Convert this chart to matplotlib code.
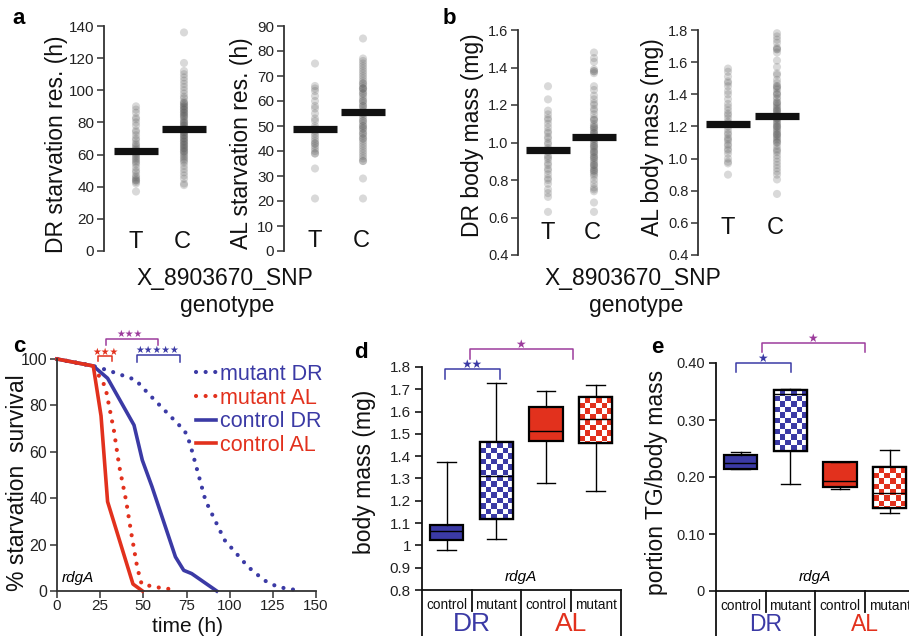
import numpy as np
import matplotlib
matplotlib.use("Agg")
import matplotlib.pyplot as plt
from matplotlib.colors import ListedColormap
from matplotlib.patches import PathPatch
from matplotlib.transforms import blended_transform_factory

plt.rcParams['font.family'] = ['Liberation Sans', 'DejaVu Sans']

# ---------------- data ----------------
genotypes = ["T", "C"]
a_dr_T = [90, 88, 86, 83, 82, 80, 78, 75, 74, 72, 70, 69, 67, 66, 65, 64, 63, 62, 61, 60,
          59, 58, 57, 56, 55, 54, 52, 50, 49, 47, 46, 45, 44, 44, 43, 42, 37]
a_dr_C = [136, 117, 112, 110, 108, 106, 104, 102, 100, 98, 96, 95, 93, 92, 91, 90, 89, 88, 87,
          86, 85, 84, 83, 82, 81, 80, 79, 78, 77, 76, 76, 75, 74, 73, 72, 71, 70, 69, 68, 67,
          66, 65, 64, 63, 62, 61, 60, 59, 58, 57, 56, 55, 53, 51, 49, 47, 45, 42, 41,
          92, 90, 88, 86, 84, 80, 78, 74, 72, 70, 68, 66, 64, 62]
a_dr_means = [62, 76]
a_al_T = [75, 66, 65, 64, 62, 60, 58, 57, 55, 53, 52, 50, 49, 48, 47, 46, 45, 44, 43, 43,
          42, 41, 40, 39, 39, 33, 21]
a_al_C = [85, 77, 76, 75, 74, 73, 72, 71, 70, 69, 68, 67, 66, 65, 65, 64, 63, 62, 61, 60, 59,
          58, 57, 56, 55, 54, 53, 52, 51, 50, 49, 49, 48, 47, 46, 45, 44, 43, 42, 41, 40, 39,
          38, 37, 36, 36, 29, 21, 67, 65, 63, 60, 58, 55, 52, 50, 47, 45]
a_al_means = [48.7, 55.5]
b_dr_T = [1.30, 1.23, 1.17, 1.15, 1.13, 1.12, 1.10, 1.08, 1.06, 1.05, 1.03, 1.02, 1.00, 0.99,
          0.97, 0.96, 0.95, 0.93, 0.92, 0.91, 0.89, 0.88, 0.86, 0.85, 0.83, 0.81, 0.80, 0.78,
          0.75, 0.73, 0.71, 0.63]
b_dr_C = [1.48, 1.45, 1.43, 1.39, 1.38, 1.37, 1.30, 1.28, 1.25, 1.23, 1.21, 1.20, 1.18, 1.17,
          1.15, 1.13, 1.12, 1.10, 1.09, 1.08, 1.07, 1.06, 1.05, 1.04, 1.03, 1.02, 1.01, 1.00,
          0.99, 0.98, 0.97, 0.96, 0.95, 0.94, 0.93, 0.92, 0.91, 0.90, 0.89, 0.88, 0.87, 0.86,
          0.85, 0.84, 0.83, 0.82, 0.80, 0.78, 0.76, 0.75, 0.74, 0.68, 0.63,
          1.38, 1.12, 1.08, 1.05, 1.02, 0.98, 0.95, 0.92, 0.88, 0.85]
b_dr_means = [0.96, 1.03]
b_al_T = [1.56, 1.54, 1.51, 1.48, 1.47, 1.45, 1.42, 1.40, 1.37, 1.34, 1.32, 1.30, 1.28, 1.27,
          1.25, 1.23, 1.22, 1.20, 1.18, 1.16, 1.15, 1.13, 1.12, 1.11, 1.09, 1.08, 1.06, 1.05,
          1.03, 1.00, 0.98, 0.97, 0.90]
b_al_C = [1.78, 1.76, 1.74, 1.72, 1.69, 1.68, 1.66, 1.61, 1.57, 1.53, 1.52, 1.49, 1.47, 1.45,
          1.44, 1.43, 1.41, 1.40, 1.38, 1.37, 1.35, 1.34, 1.33, 1.32, 1.31, 1.30, 1.29, 1.28,
          1.27, 1.26, 1.25, 1.24, 1.23, 1.22, 1.21, 1.20, 1.19, 1.18, 1.17, 1.16, 1.15, 1.14,
          1.13, 1.12, 1.11, 1.10, 1.08, 1.06, 1.04, 1.02, 1.00, 0.98, 0.96, 0.94, 0.92, 0.90,
          0.87, 0.78, 1.68, 1.45, 1.40, 1.35, 1.30, 1.25, 1.20, 1.15, 1.10, 1.05]
b_al_means = [1.215, 1.267]

# survival curves (panel c)
t_mut_DR = [0, 21, 30, 45.5, 53, 74, 77, 86, 97, 110.7, 120, 128, 139.5]
s_mut_DR = [100, 97, 95, 91, 85, 69, 63.6, 39, 22, 10.4, 4.6, 1.7, 0.3]
t_mut_AL = [0, 21, 28, 33, 36, 40, 43, 46.5, 49, 57, 68.5]
s_mut_AL = [100, 97, 88, 69, 54, 39, 25, 10, 3, 1.7, 0.5]
t_ctl_DR = [0, 21, 29.3, 44.6, 49.4, 55, 68.6, 73.4, 78, 92.5]
s_ctl_DR = [100, 97, 91.7, 71.5, 56.4, 45, 14.7, 8.9, 7.5, 0]
t_ctl_AL = [0, 21, 25.5, 29.3, 44, 49.5]
s_ctl_AL = [100, 97, 75.5, 38.5, 3, 0]

groups = ["control", "mutant", "control", "mutant"]
diets = ["DR", "AL"]
# panel d: body mass boxes
d_whislo = [0.98, 1.027, 1.282, 1.242]
d_q1 = [1.024, 1.118, 1.467, 1.457]
d_med = [1.064, 1.313, 1.515, 1.566]
d_q3 = [1.090, 1.464, 1.621, 1.664]
d_whishi = [1.376, 1.728, 1.693, 1.718]
# panel e: TG / body mass
e_whislo = [0.214, 0.187, 0.179, 0.136]
e_q1 = [0.214, 0.246, 0.183, 0.145]
e_med = [0.224, 0.346, 0.193, 0.172]
e_q3 = [0.238, 0.352, 0.226, 0.217]
e_whishi = [0.243, 0.354, 0.227, 0.247]

BLUE = "#3b3aa5"
RED = "#e2311d"
PURPLE = "#9c3c9c"
DOT = "#555555"
STAR = "\u2605"

W, H = 909, 636
fig = plt.figure(figsize=(W / 100, H / 100), dpi=100)


def px_axes(x0, ytop, x1, ybot):
    return fig.add_axes([x0 / W, 1 - ybot / H, (x1 - x0) / W, (ybot - ytop) / H])


def ftext(x, y, s, **kw):
    return fig.text(x / W, 1 - y / H, s, **kw)


def style_left_only(ax, tick_fs):
    for sp in ["top", "right", "bottom"]:
        ax.spines[sp].set_visible(False)
    ax.spines["left"].set_color("#333333")
    ax.spines["left"].set_linewidth(1.3)
    ax.tick_params(axis="y", direction="out", length=5, width=1.1, color="#333333",
                   labelsize=tick_fs, labelcolor="#222222", pad=2)
    ax.set_xticks([])
    ax.patch.set_alpha(0)


def strip_panel(xaxis, xT, xC, ytop, ybot, ylim, yticks, yticklabels, dT, dC, means,
                ylabel, ylab_xy, tc_y, tick_fs):
    sp = xC - xT
    x1 = xaxis + 120
    ax = px_axes(xaxis, ytop, x1, ybot)
    ax.set_xlim((xaxis - xT) / sp, (x1 - xT) / sp)
    ax.set_ylim(*ylim)
    style_left_only(ax, tick_fs)
    ax.set_yticks(yticks)
    ax.set_yticklabels(yticklabels)
    for i, d in enumerate([dT, dC]):
        ax.scatter(np.full(len(d), i), d, s=34, color=DOT, alpha=0.22,
                   edgecolors="none", clip_on=False, zorder=2)
    hw = 22.0 / sp
    for i, m in enumerate(means):
        ax.hlines(m, i - hw, i + hw, color="#111111", lw=5.2, zorder=3, capstyle="butt")
    tr = blended_transform_factory(ax.transData, fig.transFigure)
    for i, g in enumerate(genotypes):
        ax.text(i - 0.03 * i, 1 - tc_y / H, g, transform=tr, ha="center", va="center",
                fontsize=17, color="#111111")
    ftext(ylab_xy[0], ylab_xy[1], ylabel, rotation=90, ha="center", va="center",
          fontsize=16.5, color="#111111")
    return ax


# ---------------- panel a ----------------
strip_panel(104, 136, 184, 26, 251, (0, 140), range(0, 141, 20),
            [str(v) for v in range(0, 141, 20)], a_dr_T, a_dr_C, a_dr_means,
            "DR starvation res. (h)", (57, 144), 242, 11)
strip_panel(284, 315, 363, 26, 251, (0, 90), range(0, 91, 10),
            [str(v) for v in range(0, 91, 10)], a_al_T, a_al_C, a_al_means,
            "AL starvation res. (h)", (242, 143), 241, 11)
ftext(225, 279, "X_8903670_SNP", ha="center", va="center", fontsize=16.5, color="#111111")
ftext(227, 305, "genotype", ha="center", va="center", fontsize=16.5, color="#111111")
ftext(19, 19, "a", ha="center", va="center", fontsize=16, fontweight="bold")

# ---------------- panel b ----------------
bt = [0.4, 0.6, 0.8, 1.0, 1.2, 1.4, 1.6]
strip_panel(518, 548, 594, 30, 255, (0.4, 1.6), bt, ["%.1f" % v for v in bt],
            b_dr_T, b_dr_C, b_dr_means, "DR body mass (mg)", (472, 135), 233, 10.5)
bt2 = [0.4, 0.6, 0.8, 1.0, 1.2, 1.4, 1.6, 1.8]
strip_panel(698, 728, 777, 30, 255, (0.4, 1.8), bt2, ["%.1f" % v for v in bt2],
            b_al_T, b_al_C, b_al_means, "AL body mass (mg)", (653, 137), 228, 10.5)
ftext(633, 278, "X_8903670_SNP", ha="center", va="center", fontsize=16.5, color="#111111")
ftext(636, 305, "genotype", ha="center", va="center", fontsize=16.5, color="#111111")
ftext(449, 19, "b", ha="center", va="center", fontsize=16, fontweight="bold")

# ---------------- panel c ----------------
axc = px_axes(57, 359, 316, 591)
axc.set_xlim(0, 150)
axc.set_ylim(0, 100)
for sp in ["top", "right"]:
    axc.spines[sp].set_visible(False)
for sp in ["left", "bottom"]:
    axc.spines[sp].set_color("#333333")
    axc.spines[sp].set_linewidth(1.3)
axc.tick_params(direction="out", length=5, width=1.1, color="#333333", labelsize=11.5,
                labelcolor="#222222", pad=2)
axc.tick_params(axis="x", labelsize=11, pad=1)
axc.set_xticks(range(0, 151, 25))
axc.set_yticks(range(0, 101, 20))
axc.patch.set_alpha(0)
dot = (0, (0.01, 2.3))
l1, = axc.plot(t_mut_DR, s_mut_DR, color=BLUE, lw=3.0, linestyle=dot,
               dash_capstyle="round", clip_on=False, label="mutant DR")
l2, = axc.plot(t_mut_AL, s_mut_AL, color=RED, lw=3.0, linestyle=dot,
               dash_capstyle="round", clip_on=False, label="mutant AL")
l3, = axc.plot(t_ctl_DR, s_ctl_DR, color=BLUE, lw=2.6, clip_on=False, label="control DR")
l4, = axc.plot(t_ctl_AL, s_ctl_AL, color=RED, lw=2.6, clip_on=False, label="control AL")
leg = axc.legend(handles=[l1, l2, l3, l4], loc="upper left",
                 bbox_to_anchor=(196 / W, 1 - 364 / H), bbox_transform=fig.transFigure,
                 frameon=False, fontsize=15.5, handlelength=0.95, handletextpad=0.15,
                 labelspacing=0.12, borderpad=0, borderaxespad=0)
for txt, c in zip(leg.get_texts(), [BLUE, RED, BLUE, RED]):
    txt.set_color(c)
axc.text(3, 2.5, "rdgA", fontstyle="italic", fontsize=11, ha="left", va="bottom")
ftext(18, 483, "% starvation  survival", rotation=90, ha="center", va="center",
      fontsize=16.5, color="#111111")
ftext(188, 636, "time (h)", ha="center", va="bottom", fontsize=15, color="#111111")
ftext(19, 346, "c", ha="center", va="center", fontsize=16, fontweight="bold")


def bracket(ax, x0, x1, y, ydrop, color, n, xs, fs=7.0, off=1.0):
    ax.plot([x0, x0, x1, x1], [y - ydrop, y, y, y - ydrop], color=color, lw=1.1,
            clip_on=False)
    ax.annotate(STAR * n, xy=(xs, y), xytext=(0, off), textcoords="offset points",
                color=color, ha="center", va="baseline", fontsize=fs,
                family=["DejaVu Sans"], annotation_clip=False)


bracket(axc, 28.2, 58.3, 108.75, 2.85, PURPLE, 3, 41.7)
bracket(axc, 23.6, 31.7, 101.3, 2.2, RED, 3, 27.8)
bracket(axc, 46.1, 71.2, 101.8, 3.1, BLUE, 5, 58.3)


# ---------------- panels d / e ----------------
def checker_fill(ax, patch, color, ncols=6):
    bb = patch.get_path().get_extents(patch.get_transform())
    sq = bb.width / ncols
    nrows = int(np.ceil(bb.height / sq))
    arr = np.add.outer(np.arange(nrows), np.arange(ncols)) % 2
    inv = ax.transData.inverted()
    (x0, ytop) = inv.transform((bb.x0, bb.y1))
    (x1, ybot) = inv.transform((bb.x1, bb.y1 - nrows * sq))
    im = ax.imshow(arr, cmap=ListedColormap(["white", color]), extent=(x0, x1, ybot, ytop),
                   origin="upper", interpolation="nearest", aspect="auto", zorder=2.5)
    im.set_clip_path(patch)
    ax.add_patch(PathPatch(patch.get_path(), transform=patch.get_transform(), fill=False,
                           edgecolor="black", lw=1.6, zorder=3))


def box_panel(x0, ytop, ybot, ylim, yticks, yticklabels, tick_fs, whislo, q1, med, q3,
              whishi, ylabel, ylab_xy, dr_fs, rdga_y):
    ax = px_axes(x0, ytop, x0 + 198.5, ybot)
    ax.set_xlim(-0.5, 3.5)
    ax.set_ylim(*ylim)
    for sp in ["top", "right"]:
        ax.spines[sp].set_visible(False)
    for sp in ["left", "bottom"]:
        ax.spines[sp].set_color("#111111")
        ax.spines[sp].set_linewidth(1.3)
    ax.tick_params(axis="y", direction="out", length=5, width=1.1, labelsize=tick_fs,
                   labelcolor="#222222", pad=3)
    ax.set_xticks([])
    ax.set_yticks(yticks)
    ax.set_yticklabels(yticklabels)
    ax.patch.set_alpha(0)
    stats = [dict(whislo=a, q1=b, med=c, q3=d, whishi=e, fliers=[])
             for a, b, c, d, e in zip(whislo, q1, med, q3, whishi)]
    bp = ax.bxp(stats, positions=range(4), widths=0.67, capwidths=0.38, patch_artist=True,
                showfliers=False, manage_ticks=False,
                boxprops=dict(edgecolor="black", linewidth=1.6),
                medianprops=dict(color="black", linewidth=1.0, zorder=4),
                whiskerprops=dict(color="black", linewidth=1.0),
                capprops=dict(color="black", linewidth=1.0))
    cols = [BLUE, BLUE, RED, RED]
    for i, (patch, c) in enumerate(zip(bp["boxes"], cols)):
        if i % 2 == 0:
            patch.set_facecolor(c)
        else:
            patch.set_facecolor("white")
            checker_fill(ax, patch, c)
    # table below the axis
    tr = blended_transform_factory(ax.transData, fig.transFigure)
    hp = ybot
    for xv, full in [(-0.5, True), (0.5, False), (1.5, True), (2.5, False), (3.5, True)]:
        yend = 640 if full else hp + 21
        ax.plot([xv, xv], [1 - hp / H, 1 - yend / H], transform=tr, color="#111111",
                lw=1.3, clip_on=False)
    for i, g in enumerate(groups):
        ax.text(i, 1 - (hp + 15) / H, g, transform=tr, ha="center", va="center",
                fontsize=9.8, color="#111111")
    for j, (dname, c) in enumerate(zip(diets, [BLUE, RED])):
        ax.text(0.5 + 2 * j, 1 - 636 / H, dname, transform=tr, ha="center",
                va="bottom", fontsize=dr_fs, color=c)
    ax.text(1.5, 1 - rdga_y / H, "rdgA", transform=tr, fontstyle="italic", fontsize=11,
            ha="center", va="center")
    ftext(ylab_xy[0], ylab_xy[1], ylabel, rotation=90, ha="center", va="center",
          fontsize=16.5, color="#111111")
    return ax


dt = [0.8, 0.9, 1.0, 1.1, 1.2, 1.3, 1.4, 1.5, 1.6, 1.7, 1.8]
axd = box_panel(422, 367, 590, (0.8, 1.8), dt, ["%g" % v for v in dt], 11,
                d_whislo, d_q1, d_med, d_q3, d_whishi, "body mass (mg)", (364, 472), 19, 577)
bracket(axd, -0.04, 1.08, 1.790, 0.044, BLUE, 2, 0.5, fs=8.5)
bracket(axd, 0.477, 2.54, 1.879, 0.043, PURPLE, 1, 1.48, fs=8.5)
ftext(361, 352, "d", ha="center", va="center", fontsize=16, fontweight="bold")

et = [0, 0.1, 0.2, 0.3, 0.4]
axe = box_panel(716, 363, 591, (0, 0.4), et, ["0", "0.10", "0.20", "0.30", "0.40"], 10.5,
                e_whislo, e_q1, e_med, e_q3, e_whishi, "portion TG/body mass", (657, 482),
                16.5, 577)
bracket(axe, -0.1, 1.02, 0.40, 0.016, BLUE, 1, 0.43, fs=8.5)
bracket(axe, 0.43, 2.5, 0.435, 0.016, PURPLE, 1, 1.45, fs=8.5)
ftext(657, 347, "e", ha="center", va="center", fontsize=16, fontweight="bold")

fig.savefig("out.png", dpi=100)
